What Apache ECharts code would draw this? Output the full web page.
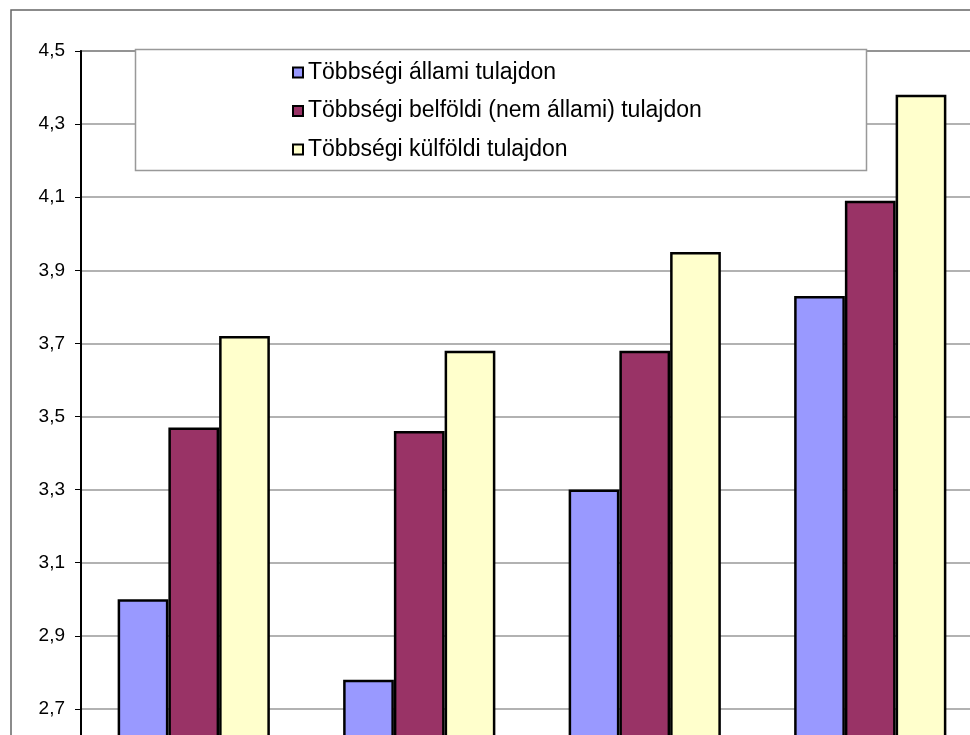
<!DOCTYPE html>
<html>
<head>
<meta charset="utf-8">
<script src="https://cdn.jsdelivr.net/npm/echarts@6/dist/echarts.min.js"></script>
<style>
html,body{margin:0;padding:0;background:#fff;overflow:hidden;}
#chart{width:1010px;height:840px;}
</style>
</head>
<body>
<div id="chart"></div>
<script>
// Data
var categories = ['1', '2', '3', '4'];
var seriesNames = ['Többségi állami tulajdon', 'Többségi belföldi (nem állami) tulajdon', 'Többségi külföldi tulajdon'];
var allami = [3.00, 2.78, 3.30, 3.83];
var belfoldi = [3.47, 3.46, 3.68, 4.09];
var kulfoldi = [3.72, 3.68, 3.95, 4.38];
var yTicks = [2.5, 2.7, 2.9, 3.1, 3.3, 3.5, 3.7, 3.9, 4.1, 4.3, 4.5];

var colors = ['#9999FF', '#993366', '#FFFFCC'];
var font = 'Arial, "Liberation Sans", sans-serif';

var chart = echarts.init(document.getElementById('chart'), null, {renderer: 'canvas'});
function mkSeries(name, data, color) {
  return {
    name: name,
    type: 'bar',
    data: data,
    barGap: '0%',
    barCategoryGap: '32.5%',
    z: 3,
    itemStyle: {color: color, borderColor: '#000', borderWidth: 2.5},
    emphasis: {disabled: true},
    animation: false
  };
}
chart.setOption({
  animation: false,
  textStyle: {fontFamily: font},
  grid: {left: 81, top: 51, width: 902, height: 731, show: true, borderColor: '#888', borderWidth: 2, containLabel: false, outerBoundsMode: 'none'},
  graphic: [
    {type: 'rect', z: 0, shape: {x: 11, y: 10, width: 1100, height: 900},
     style: {fill: 'none', stroke: '#666', lineWidth: 1.5}},
    {type: 'rect', z: 5, shape: {x: 135.5, y: 49.5, width: 731, height: 121},
     style: {fill: '#fff', stroke: '#999', lineWidth: 1.5}}
  ],
  legend: {
    orient: 'vertical',
    left: 292,
    top: 60,
    padding: 0,
    z: 10,
    itemWidth: 10,
    itemHeight: 10,
    itemGap: 13.5,
    icon: 'rect',
    itemStyle: {borderColor: '#000', borderWidth: 2},
    textStyle: {fontSize: 23, lineHeight: 25, color: '#000', fontFamily: font},
    selectedMode: false,
    data: seriesNames
  },
  xAxis: {
    type: 'category',
    data: categories,
    axisLine: {show: false},
    axisTick: {show: false},
    axisLabel: {show: false}
  },
  yAxis: {
    type: 'value',
    min: 2.5,
    max: 4.5,
    axisLine: {show: true, lineStyle: {color: '#000', width: 2}},
    axisTick: {show: true, length: 6, inside: false, lineStyle: {color: '#000', width: 1}, customValues: yTicks},
    axisLabel: {
      customValues: yTicks,
      margin: 16,
      fontSize: 19,
      color: '#000',
      fontFamily: font,
      formatter: function (v) { return v.toFixed(1).replace('.', ','); }
    },
    splitLine: {show: true, lineStyle: {color: '#999', width: 1.5}}
  },
  series: [
    mkSeries(seriesNames[0], allami, colors[0]),
    mkSeries(seriesNames[1], belfoldi, colors[1]),
    mkSeries(seriesNames[2], kulfoldi, colors[2])
  ]
});
</script>
</body>
</html>
